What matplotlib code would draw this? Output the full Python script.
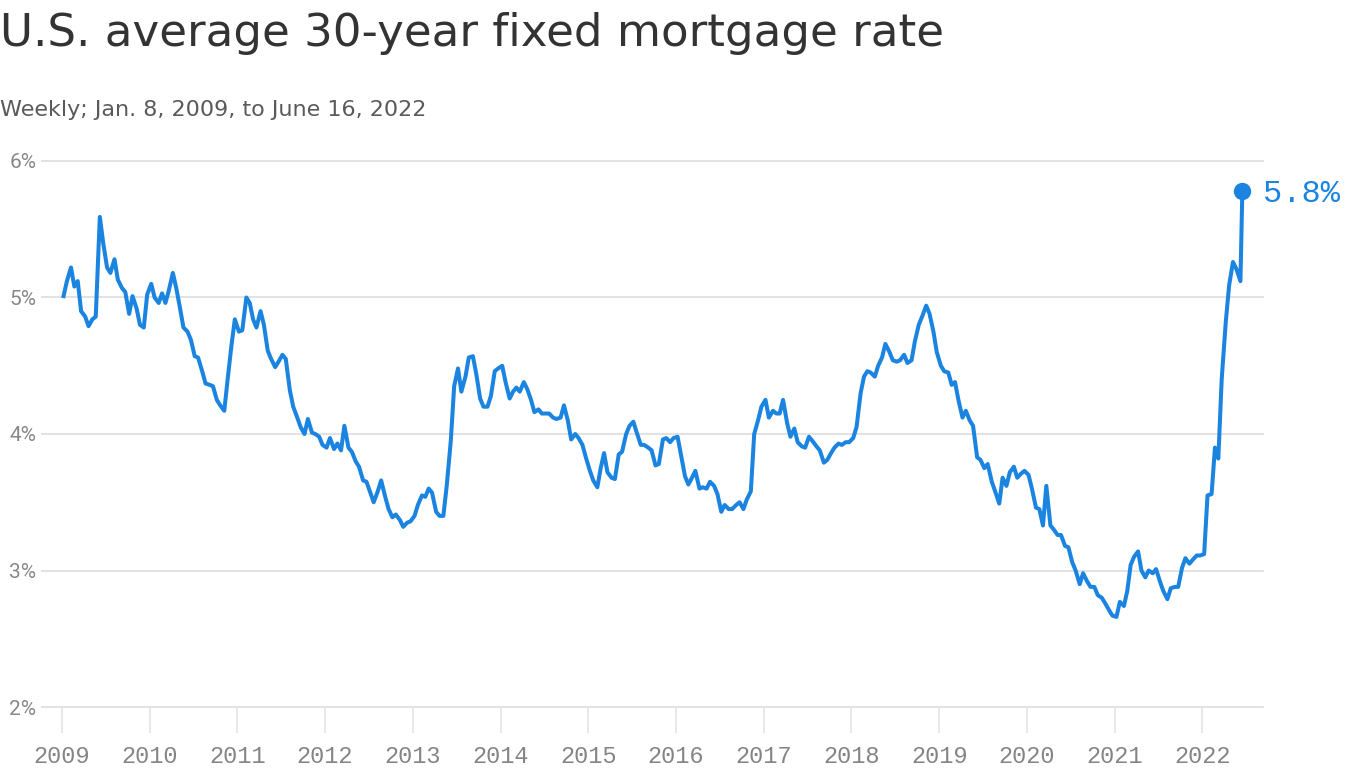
import matplotlib
matplotlib.use("Agg")
from matplotlib import pyplot as plt
from datetime import date

# tick years use a mono face, other texts name their own family
plt.rcParams["font.family"] = ["Liberation Mono", "DejaVu Sans"]

# weekly 30-yr fixed rate at ~8th and ~22nd of each month
years = list(range(2009, 2023))
r2009 = [5.01, 5.12, 5.22, 5.08, 5.12, 4.90, 4.86, 4.79, 4.84, 4.86, 5.59, 5.40,
         5.22, 5.18, 5.28, 5.13, 5.07, 5.04, 4.88, 5.01, 4.92, 4.80, 4.78, 5.02]
r2010 = [5.10, 5.00, 4.96, 5.03, 4.96, 5.05, 5.18, 5.07, 4.92, 4.78, 4.75, 4.69,
         4.57, 4.56, 4.46, 4.37, 4.36, 4.35, 4.25, 4.21, 4.17, 4.40, 4.65, 4.84]
r2011 = [4.75, 4.76, 5.00, 4.96, 4.84, 4.78, 4.90, 4.80, 4.61, 4.55, 4.49, 4.53,
         4.58, 4.55, 4.32, 4.20, 4.12, 4.05, 4.00, 4.11, 4.01, 4.00, 3.98, 3.92]
r2012 = [3.90, 3.97, 3.89, 3.93, 3.88, 4.06, 3.90, 3.87, 3.80, 3.76, 3.66, 3.65,
         3.57, 3.50, 3.58, 3.66, 3.54, 3.45, 3.39, 3.41, 3.37, 3.32, 3.35, 3.36]
r2013 = [3.40, 3.48, 3.55, 3.54, 3.60, 3.57, 3.43, 3.40, 3.40, 3.62, 3.95, 4.35,
         4.48, 4.31, 4.42, 4.56, 4.57, 4.44, 4.26, 4.20, 4.20, 4.28, 4.46, 4.48]
r2014 = [4.50, 4.38, 4.26, 4.31, 4.34, 4.31, 4.38, 4.33, 4.25, 4.16, 4.18, 4.15,
         4.15, 4.15, 4.12, 4.11, 4.12, 4.21, 4.10, 3.96, 4.00, 3.97, 3.92, 3.83]
r2015 = [3.73, 3.66, 3.61, 3.75, 3.86, 3.72, 3.68, 3.67, 3.85, 3.87, 4.00, 4.06,
         4.09, 4.01, 3.92, 3.92, 3.90, 3.88, 3.77, 3.78, 3.96, 3.97, 3.94, 3.97]
r2016 = [3.98, 3.85, 3.69, 3.63, 3.68, 3.73, 3.60, 3.61, 3.60, 3.65, 3.62, 3.56,
         3.43, 3.48, 3.45, 3.45, 3.48, 3.50, 3.45, 3.52, 3.58, 4.00, 4.10, 4.20]
r2017 = [4.25, 4.12, 4.17, 4.15, 4.15, 4.25, 4.08, 3.98, 4.04, 3.94, 3.91, 3.90,
         3.98, 3.95, 3.91, 3.88, 3.79, 3.81, 3.86, 3.90, 3.93, 3.92, 3.94, 3.94]
r2018 = [3.97, 4.05, 4.30, 4.42, 4.46, 4.45, 4.42, 4.50, 4.56, 4.66, 4.60, 4.54,
         4.53, 4.54, 4.58, 4.52, 4.54, 4.68, 4.80, 4.86, 4.94, 4.88, 4.75, 4.60]
r2019 = [4.50, 4.46, 4.45, 4.36, 4.38, 4.25, 4.12, 4.17, 4.10, 4.06, 3.83, 3.81,
         3.75, 3.78, 3.65, 3.58, 3.49, 3.68, 3.62, 3.72, 3.76, 3.68, 3.71, 3.73]
r2020 = [3.70, 3.60, 3.46, 3.45, 3.33, 3.62, 3.33, 3.30, 3.26, 3.26, 3.18, 3.17,
         3.06, 3.00, 2.90, 2.98, 2.92, 2.88, 2.88, 2.82, 2.80, 2.76, 2.71, 2.67]
r2021 = [2.66, 2.77, 2.74, 2.85, 3.04, 3.10, 3.14, 3.00, 2.95, 3.00, 2.98, 3.01,
         2.92, 2.85, 2.79, 2.87, 2.88, 2.88, 3.02, 3.09, 3.05, 3.08, 3.11, 3.11]
r2022 = [3.12, 3.55, 3.56, 3.90, 3.82, 4.40, 4.82, 5.09, 5.26, 5.21, 5.12]
rates = [r2009, r2010, r2011, r2012, r2013, r2014, r2015, r2016, r2017,
         r2018, r2019, r2020, r2021, r2022]
last_date = date(2022, 6, 16)
last_rate = 5.78
pct_ticks = [2, 3, 4, 5, 6]

dates, values = [], []
for y, vals in zip(years, rates):
    for i, v in enumerate(vals):
        dates.append(date(y, i // 2 + 1, 8 if i % 2 == 0 else 22))
        values.append(v)
dates.append(last_date)
values.append(last_rate)

blue = "#1a84e0"
grid_c = "#e2e2e2"

fig = plt.figure(figsize=(13.66, 7.68), dpi=100)
ax = fig.add_axes([0.0307, 0.0794, 0.8939, 0.7110])

ax.plot(dates, values, color=blue, lw=2.9, solid_joinstyle="round", zorder=3)
ax.plot([last_date], [last_rate], "o", ms=11.5, color=blue, zorder=4)
ax.annotate("5.8%", (last_date, last_rate), xytext=(15, -2), textcoords="offset points",
            va="center", ha="left", color=blue, fontsize=23, family="Liberation Mono")

ax.set_ylim(2, 6)
ax.set_xlim(date(2008, 10, 10), date(2022, 9, 10))

ax.set_yticks(pct_ticks, labels=[f"{p}%" for p in pct_ticks], fontfamily="Roboto")
ax.yaxis.grid(True, color=grid_c, lw=1.4)
for gl in ax.get_ygridlines():
    gl.set_clip_on(False)
ax.tick_params(axis="y", length=0, pad=4, labelsize=15, labelcolor="#888888")

ax.set_xticks([date(y, 1, 1) for y in years], labels=[str(y) for y in years],
              fontfamily="Liberation Mono")
ax.tick_params(axis="x", length=18.7, width=1.1, color=grid_c, pad=8.5,
               labelsize=17, labelcolor="#858585")

for s in ax.spines.values():
    s.set_visible(False)

fig.text(0.0, 1 - 46 / 768, "U.S. average 30-year fixed mortgage rate",
         fontsize=32.5, color="#333333", family="DejaVu Sans", va="baseline")
fig.text(0.0, 1 - 116 / 768, "Weekly; Jan. 8, 2009, to June 16, 2022",
         fontsize=16, color="#5a5a5a", family="DejaVu Sans", va="baseline")

fig.savefig("out.png", dpi=100)
